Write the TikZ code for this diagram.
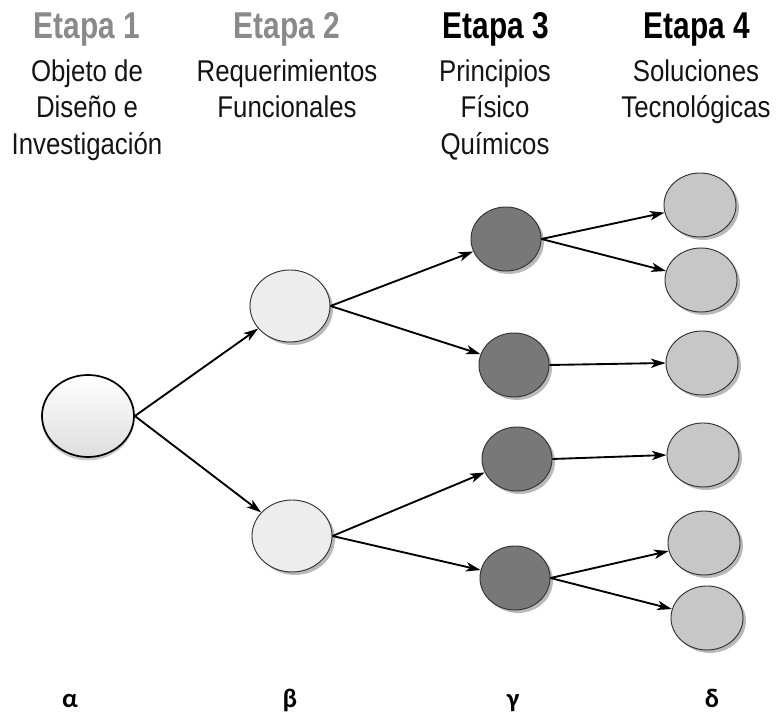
\documentclass[tikz,border=0pt]{standalone}
\usepackage{fontspec}
\setmainfont{Liberation Sans}[FakeStretch=0.86]
\newfontfamily\headfont{Liberation Sans}[FakeStretch=0.80]
\newfontfamily\greekfont{Carlito}
\usetikzlibrary{shapes.geometric,shadows,arrows.meta}

\tikzset{
  stage/.style={font=\headfont\bfseries\fontsize{28}{30}\selectfont, anchor=base, inner sep=0pt},
  faded/.style={stage, text=black!46},
  desc/.style={font=\fontsize{22.5}{26}\selectfont, anchor=base, inner sep=0pt, text=black!92},
  lvl/.style={font=\greekfont\bfseries\fontsize{20}{22}\selectfont, anchor=base, inner sep=0pt},
  bubble/.style={ellipse, draw=black!80, line width=0.7pt, inner sep=0pt,
    drop shadow={shadow xshift=2.2pt, shadow yshift=-2.2pt, fill=black!55}},
  root/.style={ellipse, draw=black, line width=1.3pt, inner sep=0pt,
    top color=white, bottom color=black!13, minimum width=69pt, minimum height=61.5pt,
    drop shadow={shadow xshift=0pt, shadow yshift=-2.5pt, fill=black!35, opacity=0.6}},
  req/.style={bubble, fill=black!7, minimum width=60pt, minimum height=54pt},
  phys/.style={bubble, fill=black!53, minimum width=52.5pt, minimum height=48pt},
  tech/.style={bubble, fill=black!22, minimum width=54pt, minimum height=48pt},
  link/.style={-{Stealth[length=11pt,width=7pt,inset=3pt]}, line width=1.4pt, black},
}

\begin{document}
\begin{tikzpicture}[x=0.75pt, y=-0.75pt]
  \path[use as bounding box] (0,0) rectangle (776,723);

  % column headings
  \node[faded] (h1) at (87,39) {Etapa 1};
  \node[faded] (h2) at (287,39) {Etapa 2};
  \node[stage] (h3) at (496,39) {Etapa 3};
  \node[stage] (h4) at (697,39) {Etapa 4};

  % column descriptions
  \node[desc] (d1a) at (87,82)  {Objeto de};
  \node[desc] (d1b) at (87,118) {Diseño e};
  \node[desc] (d1c) at (87,155) {Investigación};
  \node[desc] (d2a) at (287,82)  {Requerimientos};
  \node[desc] (d2b) at (287,118) {Funcionales};
  \node[desc] (d3a) at (495,82)  {Principios};
  \node[desc] (d3b) at (495,118) {Físico};
  \node[desc] (d3c) at (495,155) {Químicos};
  \node[desc] (d4a) at (696,82)  {Soluciones};
  \node[desc] (d4b) at (696,118) {Tecnológicas};

  % tree of bubbles
  \node[root] (a) at (88,416) {};
  \node[req] (b1) at (290,306) {};
  \node[req] (b2) at (292,536) {};
  \node[phys] (g1) at (506,239) {};
  \node[phys] (g2) at (514,365) {};
  \node[phys] (g3) at (517,459) {};
  \node[phys] (g4) at (515,578) {};
  \node[tech] (t1) at (700,205) {};
  \node[tech] (t2) at (701,280) {};
  \node[tech] (t3) at (702,363) {};
  \node[tech] (t4) at (703,455) {};
  \node[tech] (t5) at (704,543) {};
  \node[tech] (t6) at (707,618) {};

  % connectors
  \draw[link] (a.east) -- (b1);
  \draw[link] (a.east) -- (b2);
  \draw[link] (b1.east) -- (g1);
  \draw[link] (b1.east) -- (g2);
  \draw[link] (b2.east) -- (g3);
  \draw[link] (b2.east) -- (g4);
  \draw[link] (g1.east) -- (t1);
  \draw[link] (g1.east) -- (t2);
  \draw[link] (g2.east) -- (t3.west);
  \draw[link] (g3.east) -- (t4.west);
  \draw[link] (g4.east) -- (t5);
  \draw[link] (g4.east) -- (t6);

  % level labels
  \node[lvl] (la) at (70,708)  {α};
  \node[lvl] (lb) at (290,708) {β};
  \node[lvl] (lc) at (513,708) {γ};
  \node[lvl] (ld) at (712,708) {δ};
\end{tikzpicture}
\end{document}
